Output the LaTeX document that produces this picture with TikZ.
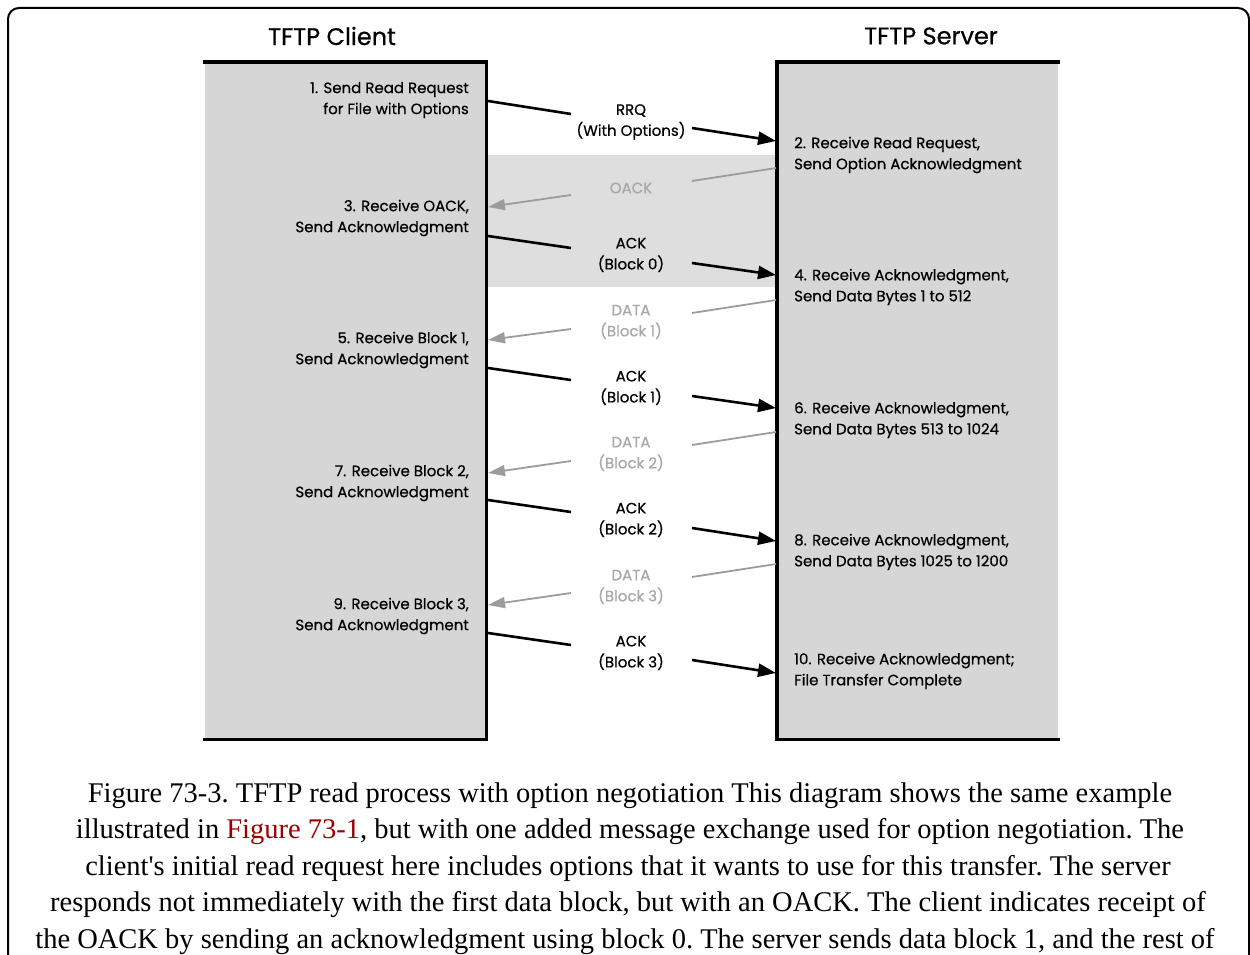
\documentclass[tikz,border=0pt]{standalone}
\usepackage{fontspec}
\setmainfont{Liberation Serif}
\newfontfamily\capfont{Liberation Serif}
\newfontfamily\diagfont{Poppins}[FakeBold=0.6]
\usetikzlibrary{arrows.meta}
\definecolor{boxgray}{HTML}{D6D6D6}
\definecolor{bandgray}{HTML}{DEDEDE}
\definecolor{msggray}{HTML}{A8A8A8}
\definecolor{arrowgray}{HTML}{9C9C9C}
\definecolor{linkred}{HTML}{990000}
\begin{document}
\begin{tikzpicture}[x=1pt,y=-1pt,
  lbl/.style={font=\diagfont\fontsize{15}{21}\selectfont, inner sep=0pt},
  clientlbl/.style={lbl, anchor=east, align=right},
  serverlbl/.style={lbl, anchor=west, align=left},
  msg/.style={lbl, align=center},
  graymsg/.style={msg, text=msggray},
  title/.style={font=\diagfont\fontsize{24}{28}\selectfont, inner sep=0pt},
  border/.style={line width=3.5pt, black, line cap=rect},
  sendline/.style={line width=2.6pt, black},
  sendarrow/.style={sendline, -{Triangle[length=18pt,width=13pt]}},
  grayline/.style={line width=1.8pt, arrowgray},
  grayarrow/.style={grayline, -{Triangle[length=17pt,width=11pt]}},
  capline/.style={font=\capfont\fontsize{28.5}{36}\selectfont\frenchspacing, inner sep=0pt, anchor=base}
]
\useasboundingbox (0,0) rectangle (1250,955);
\clip (0,0) rectangle (1250,955);

% outer frame
\draw[line width=2pt, rounded corners=11pt] (8,1000) -- (8,8) -- (1249,8) -- (1249,1000);

% band and boxes
\node[fill=bandgray, draw=none, inner sep=0pt, minimum width=291pt, minimum height=132pt, anchor=north west] (band) at (486,155) {};
\node[fill=boxgray, draw=none, inner sep=0pt, minimum width=281pt, minimum height=677pt, anchor=north west] (client) at (205,62) {};
\node[fill=boxgray, draw=none, inner sep=0pt, minimum width=281pt, minimum height=677pt, anchor=north west] (server) at (777,62) {};
\draw[border] (client.north west) -- (client.north east) -- (client.south east) -- (client.south west);
\draw[border] (server.north east) -- (server.north west) -- (server.south west) -- (server.south east);

% titles
\node[title] (tclient) at (332,36) {TFTP Client};
\node[title] (tserver) at (931,36) {TFTP Server};

% client labels
\node[clientlbl] (l1) at (469,100) {1. Send Read Request\\for File with Options};
\node[clientlbl] (l3) at (469,218) {3. Receive OACK,\\Send Acknowledgment};
\node[clientlbl] (l5) at (469,350) {5. Receive Block 1,\\Send Acknowledgment};
\node[clientlbl] (l7) at (469,483) {7. Receive Block 2,\\Send Acknowledgment};
\node[clientlbl] (l9) at (469,616) {9. Receive Block 3,\\Send Acknowledgment};

% server labels
\node[serverlbl] (l2) at (794,155) {2. Receive Read Request,\\Send Option Acknowledgment};
\node[serverlbl] (l4) at (794,287) {4. Receive Acknowledgment,\\Send Data Bytes 1 to 512};
\node[serverlbl] (l6) at (794,420) {6. Receive Acknowledgment,\\Send Data Bytes 513 to 1024};
\node[serverlbl] (l8) at (794,552) {8. Receive Acknowledgment,\\Send Data Bytes 1025 to 1200};
\node[serverlbl] (l10) at (794,671) {10. Receive Acknowledgment;\\File Transfer Complete};

% message labels
\node[msg] (rrq) at (631,122) {RRQ\\(With Options)};
\node[graymsg] (oack) at (631,188) {OACK};
\node[msg] (ack0) at (631,255) {ACK\\(Block 0)};
\node[graymsg] (data1) at (631,322) {DATA\\(Block 1)};
\node[msg] (ack1) at (631,388) {ACK\\(Block 1)};
\node[graymsg] (data2) at (631,454) {DATA\\(Block 2)};
\node[msg] (ack2) at (631,520) {ACK\\(Block 2)};
\node[graymsg] (data3) at (631,587) {DATA\\(Block 3)};
\node[msg] (ack3) at (631,653) {ACK\\(Block 3)};

% connector end points
\coordinate (c1) at (488,101);  \coordinate (r1a) at (571,114);
\coordinate (r1b) at (692,128); \coordinate (s2) at (776,141);
\coordinate (s2o) at (776,168); \coordinate (oa) at (692,181);
\coordinate (ob) at (571,195);  \coordinate (c3i) at (488,207);
\coordinate (c3) at (488,236);  \coordinate (a0a) at (571,248);
\coordinate (a0b) at (692,263); \coordinate (s4) at (776,275);
\coordinate (s4o) at (776,300); \coordinate (d1a) at (692,313);
\coordinate (d1b) at (571,329); \coordinate (c5i) at (488,340);
\coordinate (c5) at (488,368);  \coordinate (a1a) at (571,380);
\coordinate (a1b) at (692,396); \coordinate (s6) at (776,408);
\coordinate (s6o) at (776,432); \coordinate (d2a) at (692,445);
\coordinate (d2b) at (571,461); \coordinate (c7i) at (488,473);
\coordinate (c7) at (488,500);  \coordinate (a2a) at (571,512);
\coordinate (a2b) at (692,528); \coordinate (s8) at (776,541);
\coordinate (s8o) at (776,564); \coordinate (d3a) at (692,577);
\coordinate (d3b) at (571,593); \coordinate (c9i) at (488,605);
\coordinate (c9) at (488,633);  \coordinate (a3a) at (571,645);
\coordinate (a3b) at (692,660); \coordinate (s10) at (776,673);

% connectors
\draw[sendline] (c1) -- (r1a);   \draw[sendarrow] (r1b) -- (s2);
\draw[grayline] (s2o) -- (oa);   \draw[grayarrow] (ob) -- (c3i);
\draw[sendline] (c3) -- (a0a);   \draw[sendarrow] (a0b) -- (s4);
\draw[grayline] (s4o) -- (d1a);  \draw[grayarrow] (d1b) -- (c5i);
\draw[sendline] (c5) -- (a1a);   \draw[sendarrow] (a1b) -- (s6);
\draw[grayline] (s6o) -- (d2a);  \draw[grayarrow] (d2b) -- (c7i);
\draw[sendline] (c7) -- (a2a);   \draw[sendarrow] (a2b) -- (s8);
\draw[grayline] (s8o) -- (d3a);  \draw[grayarrow] (d3b) -- (c9i);
\draw[sendline] (c9) -- (a3a);   \draw[sendarrow] (a3b) -- (s10);

% caption
\node[capline] (cap1) at (630,802) {Figure 73-3. TFTP read process with option negotiation This diagram shows the same example};
\node[capline] (cap2) at (630,838) {illustrated in \textcolor{linkred}{Figure 73-1}, but with one added message exchange used for option negotiation. The};
\node[capline] (cap3) at (628,875) {client's initial read request here includes options that it wants to use for this transfer. The server};
\node[capline] (cap4) at (628,911) {responds not immediately with the first data block, but with an OACK. The client indicates receipt of};
\node[capline] (cap5) at (625,948) {the OACK by sending an acknowledgment using block 0. The server sends data block 1, and the rest of};
\end{tikzpicture}
\end{document}
